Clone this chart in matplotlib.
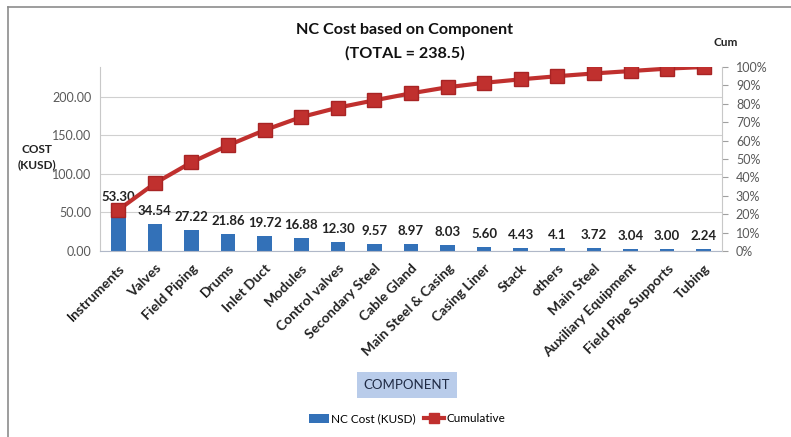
import matplotlib
matplotlib.use("Agg")
import matplotlib.pyplot as plt
from matplotlib.lines import Line2D
from matplotlib.patches import Patch

plt.rcParams['font.family'] = ['Lato', 'DejaVu Sans']

components = ["Instruments", "Valves", "Field Piping", "Drums", "Inlet Duct", "Modules",
              "Control valves", "Secondary Steel", "Cable Gland", "Main Steel & Casing",
              "Casing Liner", "Stack", "others", "Main Steel", "Auxiliary Equipment",
              "Field Pipe Supports", "Tubing"]
cost = [53.30, 34.54, 27.22, 21.86, 19.72, 16.88, 12.30, 9.57, 8.97, 8.03,
        5.60, 4.43, 4.1, 3.72, 3.04, 3.00, 2.24]
cost_labels = ["53.30", "34.54", "27.22", "21.86", "19.72", "16.88", "12.30", "9.57", "8.97",
               "8.03", "5.60", "4.43", "4.1", "3.72", "3.04", "3.00", "2.24"]
cum_pct = [22.3, 36.8, 48.2, 57.4, 65.7, 72.8, 77.9, 81.9, 85.7, 89.0,
           91.4, 93.3, 95.0, 96.5, 97.8, 99.1, 100.0]
left_ticks = [0, 50, 100, 150, 200]
right_ticks = [0, 10, 20, 30, 40, 50, 60, 70, 80, 90, 100]
total = 238.5

blue = "#3371B8"
red = "#C0302E"
gray_txt = "#595959"

fig = plt.figure(figsize=(7.91, 4.37), dpi=100)
ax = fig.add_axes([100/791, 1-251/437, (722-100)/791, (251-67)/437])
x = list(range(len(components)))
ax.bar(x, cost, width=0.40, color=blue, zorder=2)
ax.set_xlim(-0.5, len(components)-0.5)
ax.set_ylim(0, total)
ax.set_yticks(left_ticks)
ax.set_yticklabels([f"{v:.2f}" for v in left_ticks], color=gray_txt, fontsize=9)
ax.tick_params(axis='y', length=0, pad=6)
ax.tick_params(axis='x', length=0, pad=8)
ax.grid(axis='y', color="#D0D0D0", linewidth=0.8, zorder=0)
ax.set_axisbelow(True)
for s in ['top', 'right']:
    ax.spines[s].set_visible(False)
ax.spines['left'].set_color("#C8C8C8")
ax.spines['bottom'].set_color("#B0B8C8")
ax.set_xticks(x)
ax.set_xticklabels(components, rotation=45, ha='right', rotation_mode='anchor',
                   fontsize=10, fontweight='bold', color="#222222")
for xi, v, lab in zip(x, cost, cost_labels):
    ax.annotate(lab, (xi, v), xytext=(0, 5), textcoords='offset points',
                ha='center', va='bottom', fontsize=9.5, fontweight='bold', color="#222222")

ax2 = ax.twinx()
ax2.plot(x, cum_pct, color=red, linewidth=3, marker='s', markersize=10,
         markerfacecolor=red, markeredgecolor="#A82424", zorder=3)
ax2.set_ylim(0, 100)
ax2.set_yticks(right_ticks)
ax2.set_yticklabels([f"{v}%" for v in right_ticks], color=gray_txt, fontsize=9)
ax2.tick_params(axis='y', length=4, color="#A0A0A0", pad=6)
for s in ['top', 'left', 'bottom']:
    ax2.spines[s].set_visible(False)
ax2.spines['right'].set_color("#C8C8C8")

fig.text(405/791, 1-30/437, "NC Cost based on Component", ha='center', va='center',
         fontsize=11.6, fontweight='bold', color="#111111")
fig.text(405/791, 1-53/437, "(TOTAL = 238.5)", ha='center', va='center',
         fontsize=11.6, fontweight='bold', color="#111111")
fig.text(37/791, 1-157/437, "COST\n(KUSD)", ha='center', va='center',
         fontsize=8.5, fontweight='bold', color="#222222", linespacing=1.4)
fig.text(726/791, 1-43/437, "Cum", ha='center', va='center',
         fontsize=8.5, fontweight='bold', color="#222222")

fig.text(407/791, 1-385/437, "COMPONENT", ha='center', va='center', fontsize=9.5,
         color="#1F2A44",
         bbox=dict(boxstyle='square,pad=0.5', facecolor="#B9CCEA", edgecolor='none'))

handles = [Patch(facecolor=blue, edgecolor='none'),
           Line2D([0], [0], color=red, linewidth=3, marker='s', markersize=7)]
fig.legend(handles, ["NC Cost (KUSD)", "Cumulative"], loc='center',
           bbox_to_anchor=(407/791, 1-419/437), ncol=2, frameon=False, fontsize=8.5,
           handlelength=1.7, handletextpad=0.2, columnspacing=0.7)

# outer border (top and left)
fig.add_artist(Line2D([8/791, 1], [1-7/437, 1-7/437], color="#8C8C8C", linewidth=1.2,
                      transform=fig.transFigure))
fig.add_artist(Line2D([8/791, 8/791], [0, 1-7/437], color="#8C8C8C", linewidth=1.2,
                      transform=fig.transFigure))

fig.savefig("out.png", dpi=100, facecolor='white')
